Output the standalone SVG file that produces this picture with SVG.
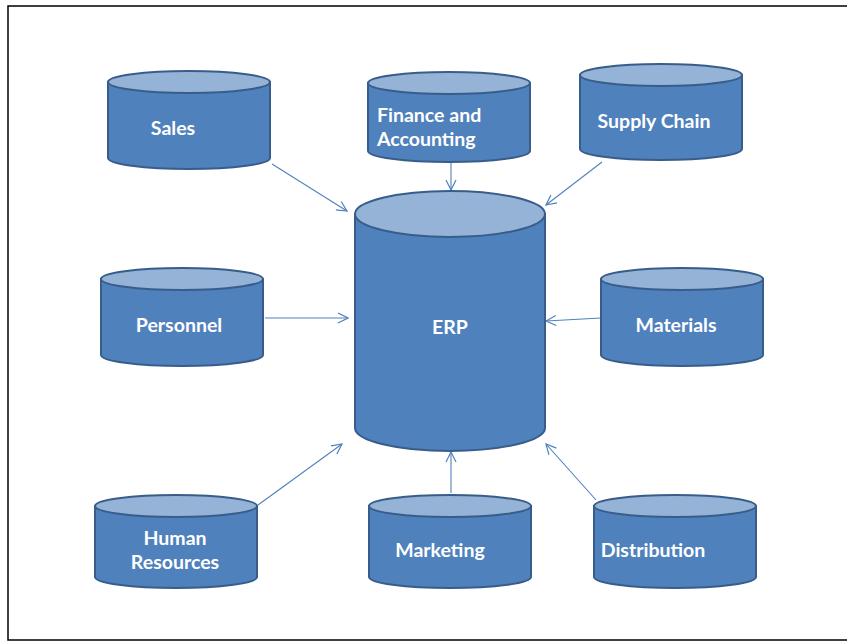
<svg xmlns="http://www.w3.org/2000/svg" width="847" height="643" viewBox="0 0 847 643">
<defs>
<style>
.body{fill:#4F81BD;stroke:#385D8A;stroke-width:2}
.top{fill:#95B3D7;stroke:#385D8A;stroke-width:2}
.lbl{fill:#FFFFFF;font-family:Lato,"Liberation Sans",sans-serif;font-weight:bold;font-size:19.5px}
.conn{stroke:#4F81BD;stroke-width:1.1;fill:none;marker-end:url(#arr)}
</style>
<marker id="arr" viewBox="0 0 12 12" refX="11" refY="6" markerWidth="12" markerHeight="12" markerUnits="userSpaceOnUse" orient="auto">
<path d="M1,1 L11,6 L1,11" fill="none" stroke="#4F81BD" stroke-width="1.2"/>
</marker>
</defs>
<rect x="0" y="0" width="847" height="643" fill="#FFFFFF"/>
<rect x="8" y="6" width="850" height="634" fill="none" stroke="#000000" stroke-width="1.5"/>

<g id="connectors">
<line class="conn" x1="272" y1="164" x2="347" y2="211"/>
<line class="conn" x1="451" y1="162" x2="451" y2="190"/>
<line class="conn" x1="602" y1="162" x2="546" y2="205"/>
<line class="conn" x1="265" y1="318" x2="348" y2="318"/>
<line class="conn" x1="601" y1="318" x2="546" y2="321"/>
<line class="conn" x1="258" y1="505" x2="342" y2="444"/>
<line class="conn" x1="451" y1="493" x2="451" y2="452"/>
<line class="conn" x1="596" y1="500" x2="546" y2="444"/>
</g>

<g id="erp">
<path class="body" d="M355,214 L355,428 A95,23 0 0 0 545,428 L545,214 Z"/>
<ellipse class="top" cx="450" cy="214" rx="95" ry="23"/>
<text class="lbl" x="450" y="334" text-anchor="middle">ERP</text>
</g>

<g id="sales">
<path class="body" d="M108,82 L108,158 A81,11 0 0 0 270,158 L270,82 Z"/>
<ellipse class="top" cx="189" cy="82" rx="81" ry="11"/>
<text class="lbl" x="173" y="135" text-anchor="middle">Sales</text>
</g>

<g id="finance">
<path class="body" d="M368,83 L368,151 A81,11 0 0 0 530,151 L530,83 Z"/>
<ellipse class="top" cx="449" cy="83" rx="81" ry="11"/>
<text class="lbl" x="377" y="122">Finance and</text>
<text class="lbl" x="377" y="146">Accounting</text>
</g>

<g id="supply">
<path class="body" d="M580,75 L580,149 A81,11 0 0 0 742,149 L742,75 Z"/>
<ellipse class="top" cx="661" cy="75" rx="81" ry="11"/>
<text class="lbl" x="654" y="128" text-anchor="middle">Supply Chain</text>
</g>

<g id="personnel">
<path class="body" d="M101,279 L101,355 A81,11 0 0 0 263,355 L263,279 Z"/>
<ellipse class="top" cx="182" cy="279" rx="81" ry="11"/>
<text class="lbl" x="179" y="332" text-anchor="middle">Personnel</text>
</g>

<g id="materials">
<path class="body" d="M601,279 L601,355 A81,11 0 0 0 763,355 L763,279 Z"/>
<ellipse class="top" cx="682" cy="279" rx="81" ry="11"/>
<text class="lbl" x="676" y="332" text-anchor="middle">Materials</text>
</g>

<g id="hr">
<path class="body" d="M95,506 L95,577 A81,11 0 0 0 257,577 L257,506 Z"/>
<ellipse class="top" cx="176" cy="506" rx="81" ry="11"/>
<text class="lbl" x="175" y="545" text-anchor="middle">Human</text>
<text class="lbl" x="175" y="569" text-anchor="middle">Resources</text>
</g>

<g id="marketing">
<path class="body" d="M369,506 L369,577 A81,11 0 0 0 531,577 L531,506 Z"/>
<ellipse class="top" cx="450" cy="506" rx="81" ry="11"/>
<text class="lbl" x="440" y="557" text-anchor="middle">Marketing</text>
</g>

<g id="distribution">
<path class="body" d="M594,506 L594,577 A81,11 0 0 0 756,577 L756,506 Z"/>
<ellipse class="top" cx="675" cy="506" rx="81" ry="11"/>
<text class="lbl" x="653" y="557" text-anchor="middle">Distribution</text>
</g>
</svg>
